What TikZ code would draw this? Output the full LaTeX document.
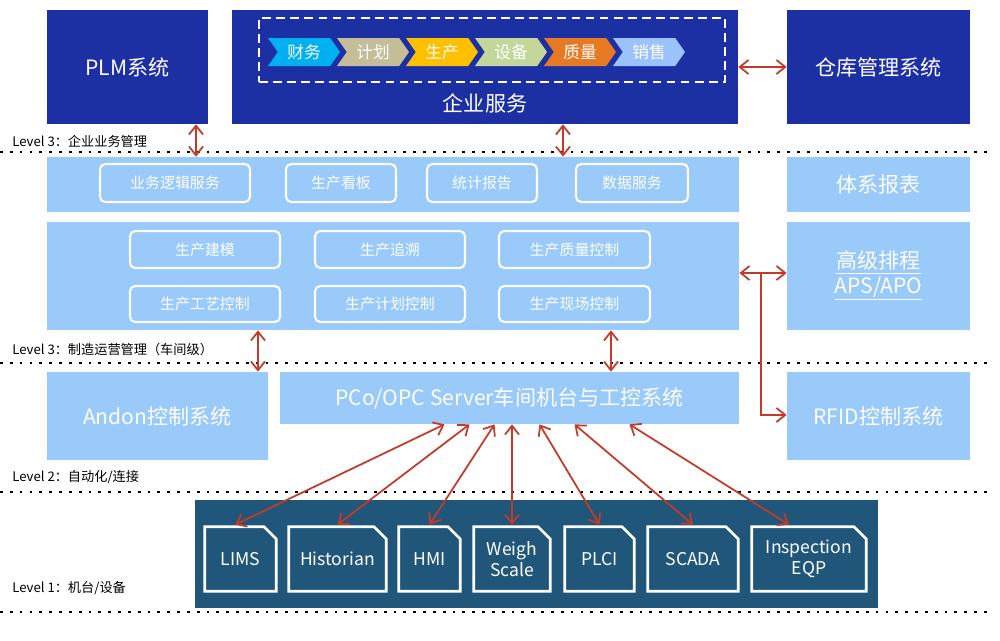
\documentclass[tikz,border=0pt]{standalone}
\usepackage{fontspec}
\setmainfont{Noto Sans CJK SC}
\usetikzlibrary{shapes.symbols,arrows.meta}
\definecolor{darkblue}{RGB}{28,48,164}
\definecolor{lightblue}{RGB}{153,202,250}
\definecolor{fieldblue}{RGB}{31,86,122}
\definecolor{linkred}{RGB}{196,58,40}
\definecolor{cFin}{RGB}{0,176,240}
\definecolor{cPlan}{RGB}{196,189,151}
\definecolor{cProd}{RGB}{255,192,0}
\definecolor{cEqp}{RGB}{196,215,155}
\definecolor{cQual}{RGB}{230,122,35}
\definecolor{cSale}{RGB}{155,194,250}
% box from (x1,y1) to (x2,y2), in pixels
\newcommand\blk[7]{\node[#6, minimum width={(#4-#2)*0.02cm}, minimum height={(#5-#3)*0.02cm}] (#1) at ({(#2+#4)/2},{(#3+#5)/2}) {#7};}
\begin{document}
\begin{tikzpicture}[
                        x=0.02cm, y=-0.02cm,
                        >={Straight Barb[length=5pt,width=8pt]},
                        big/.style={rectangle, inner sep=0pt, text=white, font=\fontsize{12}{14}\selectfont},
                        svc/.style={rectangle, rounded corners=3pt, draw=white, line width=1.2pt, fill=lightblue, inner sep=0pt, text=white, font=\fontsize{8.5}{10}\selectfont},
                        stage/.style={signal, signal from=west, signal to=east, signal pointer angle=110, minimum height=28*0.02cm, minimum width=72*0.02cm, inner sep=0pt, text=white, font=\fontsize{9.5}{11}\selectfont},
                        doc/.style={rectangle, inner sep=0pt, align=center, text=white, font=\fontsize{10}{12}\selectfont, path picture={\draw[white, line width=1.5pt] ([shift={(1pt,1pt)}]path picture bounding box.south west) |- ([shift={(-8pt,-1pt)}]path picture bounding box.north east) -- ([shift={(-1pt,-8pt)}]path picture bounding box.north east) |- cycle;}},
                        level/.style={line width=1.6pt, dash pattern=on 1.6pt off 4pt},
                        lvl/.style={anchor=west, inner sep=0pt, font=\fontsize{7.5}{9}\selectfont},
                        link/.style={<->, draw=linkred, line width=1pt}
                    ]
                    \useasboundingbox (0,0) rectangle (1000,640);
                    % Blocks
                    \blk{plm}{47}{10}{208}{124}{big, fill=darkblue}{PLM系统}
                    \blk{erp}{232}{10}{738}{124}{big, fill=darkblue, label={[anchor=south, text=white, font=\fontsize{12}{14}\selectfont, yshift=3pt]south:企业服务}}{}
                    \blk{chain}{259}{18}{725}{82}{rectangle, draw=white, line width=1.3pt, dash pattern=on 5pt off 3pt}{}
                    \blk{wms}{787}{10}{970}{124}{big, fill=darkblue}{仓库管理系统}
                    \node[stage, fill=cFin] (fin) at (304,52) {财务};
                    \node[stage, fill=cPlan] (plan) at (373,52) {计划};
                    \node[stage, fill=cProd] (prod) at (442,52) {生产};
                    \node[stage, fill=cEqp] (eqp) at (511,52) {设备};
                    \node[stage, fill=cQual] (qual) at (580,52) {质量};
                    \node[stage, fill=cSale] (sale) at (649,52) {销售};

                    \blk{svcrow}{47}{157}{739}{212}{rectangle, fill=lightblue}{}
                    \blk{logic}{100}{164}{250}{202}{svc}{业务逻辑服务}
                    \blk{board}{286}{164}{396}{202}{svc}{生产看板}
                    \blk{report}{427}{164}{537}{202}{svc}{统计报告}
                    \blk{data}{576}{164}{688}{202}{svc}{数据服务}
                    \blk{sysrep}{787}{157}{970}{212}{big, fill=lightblue}{体系报表}

                    \blk{mesrow}{47}{222}{739}{330}{rectangle, fill=lightblue}{}
                    \blk{model}{130}{231}{280}{268}{svc}{生产建模}
                    \blk{trace}{315}{231}{465}{268}{svc}{生产追溯}
                    \blk{qc}{499}{231}{650}{268}{svc}{生产质量控制}
                    \blk{proc}{130}{286}{280}{322}{svc}{生产工艺控制}
                    \blk{pctl}{315}{286}{465}{322}{svc}{生产计划控制}
                    \blk{site}{499}{286}{650}{322}{svc}{生产现场控制}
                    \blk{aps}{787}{222}{970}{330}{big, fill=lightblue, align=center}{\underline{高级排程}\\\underline{APS/APO}}

                    \blk{andon}{47}{372}{268}{460}{big, fill=lightblue}{Andon控制系统}
                    \blk{pco}{280}{372}{739}{424}{big, fill=lightblue}{PCo/OPC Server车间机台与工控系统}
                    \blk{rfid}{787}{372}{970}{460}{big, fill=lightblue}{RFID控制系统}

                    \blk{field}{195}{500}{878}{608}{rectangle, fill=fieldblue}{}
                    \blk{lims}{203}{525}{278}{593}{doc}{LIMS}
                    \blk{hist}{287}{525}{388}{593}{doc}{Historian}
                    \blk{hmi}{397}{525}{462}{593}{doc}{HMI}
                    \blk{weigh}{472}{525}{552}{593}{doc}{Weigh\\Scale}
                    \blk{plc}{563}{525}{636}{593}{doc}{PLCI}
                    \blk{scada}{646}{525}{740}{593}{doc}{SCADA}
                    \blk{insp}{750}{525}{868}{593}{doc}{Inspection\\EQP}

                    % Levels
                    \coordinate (l3a) at (0,152); \coordinate (l3ae) at (990,152);
                    \coordinate (l3b) at (0,363); \coordinate (l3be) at (990,363);
                    \coordinate (l2) at (0,492); \coordinate (l2e) at (990,492);
                    \coordinate (l1) at (0,612); \coordinate (l1e) at (990,612);
                    \draw[level] (l3a) -- (l3ae);
                    \draw[level] (l3b) -- (l3be);
                    \draw[level] (l2) -- (l2e);
                    \draw[level] (l1) -- (l1e);
                    \node[lvl] (t3a) at (12,141) {Level 3：企业业务管理};
                    \node[lvl] (t3b) at (12,349) {Level 3：制造运营管理（车间级）};
                    \node[lvl] (t2) at (12,477) {Level 2：自动化/连接};
                    \node[lvl] (t1) at (12,588) {Level 1：机台/设备};

                    % Connections
                    \draw[link] (erp.east |- 0,67) -- (wms.west |- 0,67);
                    \draw[link] (plm.south -| 196,0) -- (svcrow.north -| 196,0);
                    \draw[link] (erp.south -| 563,0) -- (svcrow.north -| 563,0);
                    \draw[link] (mesrow.south -| 258,0) -- (andon.north -| 258,0);
                    \draw[link] (mesrow.south -| 611,0) -- (pco.north -| 611,0);
                    \draw[link] (mesrow.east |- 0,273) -- (aps.west |- 0,273);
                    \coordinate (fork) at (761,273);
                    \draw[->, draw=linkred, line width=1pt] (fork) |- (rfid.west |- 0,415);
                    \draw[link] ([xshift=-1.3cm]pco.south) -- ([xshift=-3pt]lims.north);
                    \draw[link] ([xshift=-0.8cm]pco.south) -- (hist.north);
                    \draw[link] ([xshift=-0.3cm]pco.south) -- (hmi.north);
                    \draw[link] (pco.south -| weigh.north) -- (weigh.north);
                    \draw[link] ([xshift=0.6cm]pco.south) -- (plc.north);
                    \draw[link] ([xshift=1.3cm]pco.south) -- (scada.north);
                    \draw[link] ([xshift=2.4cm]pco.south) -- ([xshift=-0.4cm]insp.north);
                \end{tikzpicture}
\end{document}
